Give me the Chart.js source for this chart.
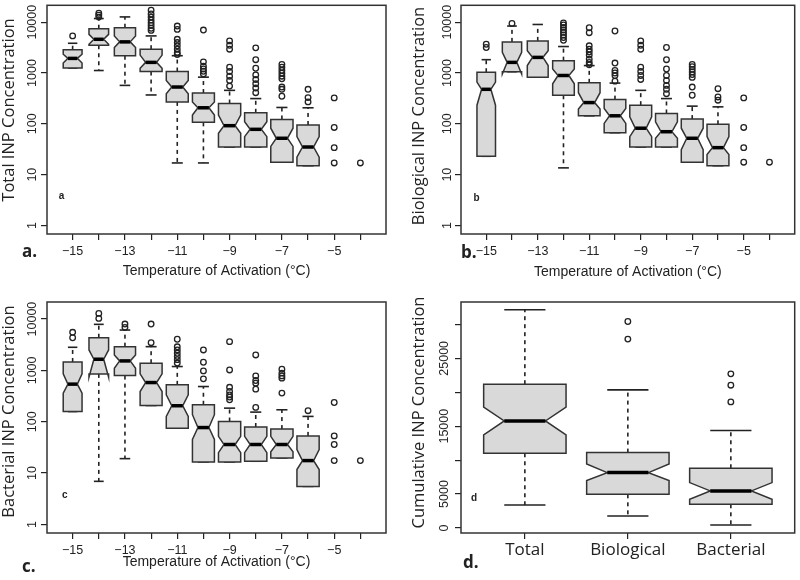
<!DOCTYPE html>
<html>
<head>
<meta charset="utf-8">
<script src="https://cdn.jsdelivr.net/npm/chart.js@4.4.0/dist/chart.umd.min.js"></script>
<style>
  body { margin: 0; background: #fff; }
  #wrap { position: relative; width: 800px; height: 580px; overflow: hidden; }
  #wrap canvas { position: absolute; }
</style>
</head>
<body>
<div id="wrap">
  <canvas id="chartA" width="400" height="290" style="left:0;top:0"></canvas>
  <canvas id="chartB" width="400" height="290" style="left:400px;top:0"></canvas>
  <canvas id="chartC" width="400" height="290" style="left:0;top:290px"></canvas>
  <canvas id="chartD" width="400" height="290" style="left:400px;top:290px"></canvas>
</div>
<script>
// temperatures of activation (deg C)
var temps = [-15, -14, -13, -12, -11, -10, -9, -8, -7, -6, -5, -4];
var tempLabels = ['\u221215', '', '\u221213', '', '\u221211', '', '\u22129', '', '\u22127', '', '\u22125', ''];
var logTicks = [1, 10, 100, 1000, 10000];
var logLabels = ['1', '10', '100', '1000', '10000'];

// a. Total INP
var totLow  = [1255, 1120, 571, 370, 17, 17, 35, 35, 17.6, 15, null, null];
var totQ1   = [1255, 3520, 2190, 1070, 270, 107, 35, 35, 17.6, 15, null, null];
var totNlo  = [1570, 3680, 3180, 1240, 392, 149, 65, 56, 36, 22, null, null];
var totMed  = [1940, 4610, 4100, 1620, 530, 207, 92, 78, 52, 35, null, null];
var totNhi  = [2340, 5770, 5370, 2250, 714, 270, 149, 110, 82, 56, null, null];
var totQ3   = [2870, 7440, 7780, 2940, 1070, 404, 251, 165, 122, 95, null, null];
var totHigh = [3850, 11800, 12700, 5370, 2190, 829, 456, 314, 210, 207, null, null];
var totOut  = [[5370], [15000, 13800, 12600], [],
  [17200, 14500, 12600, 11000, 9700, 8600, 7600, 6900],
  [8400, 7210, 4610, 3980, 3430, 2940, 2540, 2320],
  [7000, 1660, 1356, 1200, 1084, 960],
  [4290, 3520, 2940, 1300, 1070, 866, 714, 553],
  [3130, 1830, 1240, 918, 747, 614, 506, 410],
  [1480, 1300, 1130, 991, 866, 768, 530, 478, 349],
  [478, 328, 270], [324, 85, 34, 17], [17]];

// b. Biological INP
var bioLow  = [23, 1060, 829, 13.6, 144, 67, 35, 35, 17.6, 15, null, null];
var bioQ1   = [23, 1060, 829, 365, 144, 67, 35, 35, 17.6, 15, null, null];
var bioNlo  = [233, 960, 1400, 614, 195, 102, 56, 52, 31, 25, null, null];
var bioMed  = [478, 1620, 2030, 894, 262, 144, 82, 70, 52, 34, null, null];
var bioNhi  = [662, 2540, 2740, 1200, 410, 200, 138, 110, 82, 56, null, null];
var bioQ3   = [1036, 4100, 4290, 1750, 641, 300, 233, 160, 124, 98, null, null];
var bioHigh = [1830, 8400, 9020, 3320, 1400, 634, 456, 314, 223, 216, null, null];
var bioOut  = [[3680, 3180], [9430], [],
  [9700, 8800, 7900, 7000, 6300, 5600, 5000, 4400],
  [7780, 6220, 3430, 2940, 2600, 2250, 1880, 1620, 1450],
  [6710, 1570, 1120, 1000, 894, 692],
  [4290, 3520, 2940, 1300, 1070, 894, 747],
  [3180, 1830, 1200, 894, 714, 571, 478, 392],
  [1480, 1330, 1180, 1050, 930, 820, 530, 365],
  [491, 338, 292], [324, 85, 34, 17.6], [17.6]];

// c. Bacterial INP
var bacLow  = [158, 6.9, 19.1, 207, 75, 16.5, 16.5, 17, 19.7, 5.5, null, null];
var bacQ1   = [158, 855, 792, 207, 75, 16.5, 16.5, 17, 19.7, 5.5, null, null];
var bacNlo  = [360, 738, 1100, 388, 127, 45, 25, 25, 26, 11.7, null, null];
var bacMed  = [540, 1650, 1530, 580, 205, 77, 36, 36, 36, 17.5, null, null];
var bacNhi  = [855, 2500, 2000, 855, 334, 137, 52, 52, 52, 28.6, null, null];
var bacQ3   = [1460, 4330, 2900, 1380, 523, 214, 101, 79, 72, 53, null, null];
var bacHigh = [2820, 7890, 6110, 2900, 1190, 485, 184, 154, 171, 127, null, null];
var bacOut  = [[5520, 4330], [12900, 10300], [8000, 6900], [8000, 3470],
  [4040, 2880, 2500, 2160, 1870, 1620, 1390],
  [2500, 1440, 977, 684],
  [3630, 1020, 469, 388, 333, 302, 268],
  [2000, 782, 634, 564, 431, 190],
  [1055, 883, 782, 706, 361],
  [164], [237, 53, 36, 17.5], [17.5]];

// d. Cumulative INP
var cumCats = ['Total', 'Biological', 'Bacterial'];
var cumPos  = [1, 2, 3];
var cumLow  = [3390, 1770, 440];
var cumQ1   = [11010, 4960, 3490];
var cumNlo  = [13720, 6980, 4230];
var cumMed  = [15780, 8160, 5460];
var cumNhi  = [17800, 9440, 6690];
var cumQ3   = [21190, 11110, 8800];
var cumHigh = [32150, 20350, 14360];
var cumOut  = [[], [30430, 27830], [22710, 21040, 18580]];
var cumTicks  = [0, 5000, 10000, 15000, 20000, 25000, 30000];
var cumLabels = ['0', '5000', '', '15000', '', '25000', ''];

// box widths (in x units), narrower at the coldest temperatures
var tempWidths = [0.72, 0.75, 0.81, 0.84, 0.84, 0.84, 0.85, 0.85, 0.85, 0.85, 0.85, 0.85];

var SANS = "'Liberation Sans', Arial, sans-serif";
var MYRIAD = "'Open Sans', 'Noto Sans', sans-serif";

function line(ctx, x1, y1, x2, y2) {
  ctx.beginPath(); ctx.moveTo(x1, y1); ctx.lineTo(x2, y2); ctx.stroke();
}

function boxPlugin(spec) {
  return {
    id: 'notchBoxes',
    beforeDatasetsDraw: function(chart) {
      var ctx = chart.ctx, x = chart.scales.x, y = chart.scales.y;
      var py = function(v) { return y.getPixelForValue(v); };
      ctx.save();
      spec.pos.forEach(function(p, i) {
        if (spec.med[i] == null) return;
        var cx = x.getPixelForValue(p);
        var hw = x.getPixelForValue(p + spec.widths[i] / 2) - cx;
        var nw = hw * 0.5;
        // whiskers
        ctx.strokeStyle = '#222';
        ctx.lineWidth = 1.6;
        ctx.setLineDash([4, 4]);
        line(ctx, cx, py(spec.q3[i]), cx, py(spec.high[i]));
        line(ctx, cx, py(spec.q1[i]), cx, py(spec.low[i]));
        ctx.setLineDash([]);
        line(ctx, cx - nw, py(spec.high[i]), cx + nw, py(spec.high[i]));
        line(ctx, cx - nw, py(spec.low[i]), cx + nw, py(spec.low[i]));
        // notched box
        ctx.beginPath();
        ctx.moveTo(cx - hw, py(spec.q1[i]));
        ctx.lineTo(cx + hw, py(spec.q1[i]));
        ctx.lineTo(cx + hw, py(spec.nlo[i]));
        ctx.lineTo(cx + nw, py(spec.med[i]));
        ctx.lineTo(cx + hw, py(spec.nhi[i]));
        ctx.lineTo(cx + hw, py(spec.q3[i]));
        ctx.lineTo(cx - hw, py(spec.q3[i]));
        ctx.lineTo(cx - hw, py(spec.nhi[i]));
        ctx.lineTo(cx - nw, py(spec.med[i]));
        ctx.lineTo(cx - hw, py(spec.nlo[i]));
        ctx.closePath();
        ctx.fillStyle = '#d9d9d9';
        ctx.fill();
        ctx.lineWidth = 1.5;
        ctx.strokeStyle = '#333';
        ctx.stroke();
        // median
        ctx.lineWidth = 3.5;
        ctx.strokeStyle = '#000';
        line(ctx, cx - nw, py(spec.med[i]), cx + nw, py(spec.med[i]));
      });
      ctx.restore();
    },
    afterDraw: function(chart) {
      var ctx = chart.ctx, a = chart.chartArea, y = chart.scales.y;
      ctx.save();
      ctx.strokeStyle = '#333';
      ctx.lineWidth = 1.5;
      ctx.strokeRect(a.left, a.top, a.right - a.left, a.bottom - a.top);
      ctx.fillStyle = '#222';
      // y tick labels, rotated like R
      ctx.font = '12.5px ' + SANS;
      ctx.textAlign = 'center';
      ctx.textBaseline = 'middle';
      spec.yTicks.forEach(function(v, i) {
        if (!spec.yLabels[i]) return;
        ctx.save();
        ctx.translate(a.left - spec.yLabelGap, y.getPixelForValue(v));
        ctx.rotate(-Math.PI / 2);
        ctx.fillText(spec.yLabels[i], 0, 0);
        ctx.restore();
      });
      // y title
      ctx.font = '16.5px ' + MYRIAD;
      ctx.textBaseline = 'alphabetic';
      ctx.save();
      ctx.translate(spec.yTitleX, spec.yTitleY);
      ctx.rotate(-Math.PI / 2);
      ctx.fillText(spec.yTitle, 0, 0);
      ctx.restore();
      // x title
      if (spec.xTitle) {
        ctx.font = '14px ' + SANS;
        ctx.fillText(spec.xTitle, (a.left + a.right) / 2, spec.xTitleY);
      }
      // panel letter
      ctx.font = 'bold 17px ' + MYRIAD;
      ctx.textAlign = 'left';
      ctx.fillText(spec.letter + '.', spec.letterX, spec.letterY);
      // small tag inside plot
      ctx.font = 'bold 10px ' + SANS;
      ctx.textAlign = 'center';
      ctx.textBaseline = 'middle';
      ctx.fillText(spec.letter, spec.tagX, spec.tagY);
      ctx.restore();
    }
  };
}

function outlierPoints(pos, out) {
  var pts = [];
  pos.forEach(function(p, i) {
    out[i].forEach(function(v) { pts.push({ x: p, y: v }); });
  });
  return pts;
}

function makePanel(id, spec) {
  var gridOpts = { drawOnChartArea: false, drawTicks: true, tickLength: 6, color: '#222', lineWidth: 1.2 };
  return new Chart(document.getElementById(id), {
    type: 'scatter',
    data: {
      datasets: [{
        data: outlierPoints(spec.pos, spec.out),
        pointStyle: 'circle',
        pointRadius: 2.8,
        borderWidth: 1.3,
        borderColor: '#222',
        backgroundColor: 'rgba(0,0,0,0)'
      }]
    },
    options: {
      responsive: false,
      animation: false,
      events: [],
      layout: { padding: { top: spec.area.top, right: 400 - spec.area.right, left: 0, bottom: 0 } },
      plugins: { legend: { display: false }, tooltip: { enabled: false } },
      scales: {
        x: {
          type: 'linear',
          min: spec.xMin, max: spec.xMax,
          afterBuildTicks: function(s) { s.ticks = spec.pos.map(function(v) { return { value: v }; }); },
          afterFit: function(s) { s.height = 290 - spec.area.bottom; },
          ticks: {
            autoSkip: false, maxRotation: 0, minRotation: 0,
            padding: spec.xTickPad,
            color: '#222',
            font: spec.xTickFont,
            callback: function(v, i) { return spec.xLabels[i]; }
          },
          grid: gridOpts,
          border: { display: false }
        },
        y: {
          type: spec.yType,
          min: spec.yMin, max: spec.yMax,
          afterBuildTicks: function(s) { s.ticks = spec.yTicks.map(function(v) { return { value: v }; }); },
          afterFit: function(s) { s.width = spec.area.left; },
          ticks: { display: false },
          grid: gridOpts,
          border: { display: false }
        }
      }
    },
    plugins: [boxPlugin(spec)]
  });
}

function logSpec(o) {
  return Object.assign({
    pos: temps, widths: tempWidths, xMin: -15.98, xMax: -3.02,
    xLabels: tempLabels, xTickPad: 4, xTickFont: { family: SANS, size: 12.5 },
    yType: 'logarithmic', yMin: 0.68, yMax: 21500, yTicks: logTicks, yLabels: logLabels,
    xTitle: 'Temperature of Activation (\u00b0C)'
  }, o);
}

makePanel('chartA', logSpec({
  low: totLow, q1: totQ1, nlo: totNlo, med: totMed, nhi: totNhi, q3: totQ3, high: totHigh, out: totOut,
  area: { left: 47, right: 386, top: 2, bottom: 234 },
  yTitle: 'Total INP Concentration', yTitleX: 14, yTitleY: 110, yLabelGap: 14,
  xTitleY: 275, letter: 'a', letterX: 22, letterY: 257, tagX: 61.5, tagY: 196.5
}));

makePanel('chartB', logSpec({
  low: bioLow, q1: bioQ1, nlo: bioNlo, med: bioMed, nhi: bioNhi, q3: bioQ3, high: bioHigh, out: bioOut,
  area: { left: 61, right: 399, top: 2, bottom: 234 },
  yTitle: 'Biological INP Concentration', yTitleX: 24, yTitleY: 116, yLabelGap: 13,
  xTitleY: 276, letter: 'b', letterX: 61, letterY: 258, tagX: 76.5, tagY: 198.5
}));

makePanel('chartC', logSpec({
  low: bacLow, q1: bacQ1, nlo: bacNlo, med: bacMed, nhi: bacNhi, q3: bacQ3, high: bacHigh, out: bacOut,
  area: { left: 47, right: 386, top: 12, bottom: 243 },
  yTitle: 'Bacterial INP Concentration', yTitleX: 14, yTitleY: 121.5, yLabelGap: 14,
  xTitleY: 276, letter: 'c', letterX: 22, letterY: 282, tagX: 64.7, tagY: 205.5
}));

makePanel('chartD', {
  pos: cumPos, widths: [0.8, 0.8, 0.8], xMin: 0.38, xMax: 3.62,
  xLabels: cumCats, xTickPad: 1, xTickFont: { family: MYRIAD, size: 17 },
  yType: 'linear', yMin: -740, yMax: 33300, yTicks: cumTicks, yLabels: cumLabels,
  low: cumLow, q1: cumQ1, nlo: cumNlo, med: cumMed, nhi: cumNhi, q3: cumQ3, high: cumHigh, out: cumOut,
  area: { left: 61, right: 399, top: 12, bottom: 243 },
  yTitle: 'Cumulative INP Concentration', yTitleX: 24, yTitleY: 122.5, yLabelGap: 16,
  xTitle: null, letter: 'd', letterX: 63, letterY: 278, tagX: 74, tagY: 208.5
});
</script>
</body>
</html>
